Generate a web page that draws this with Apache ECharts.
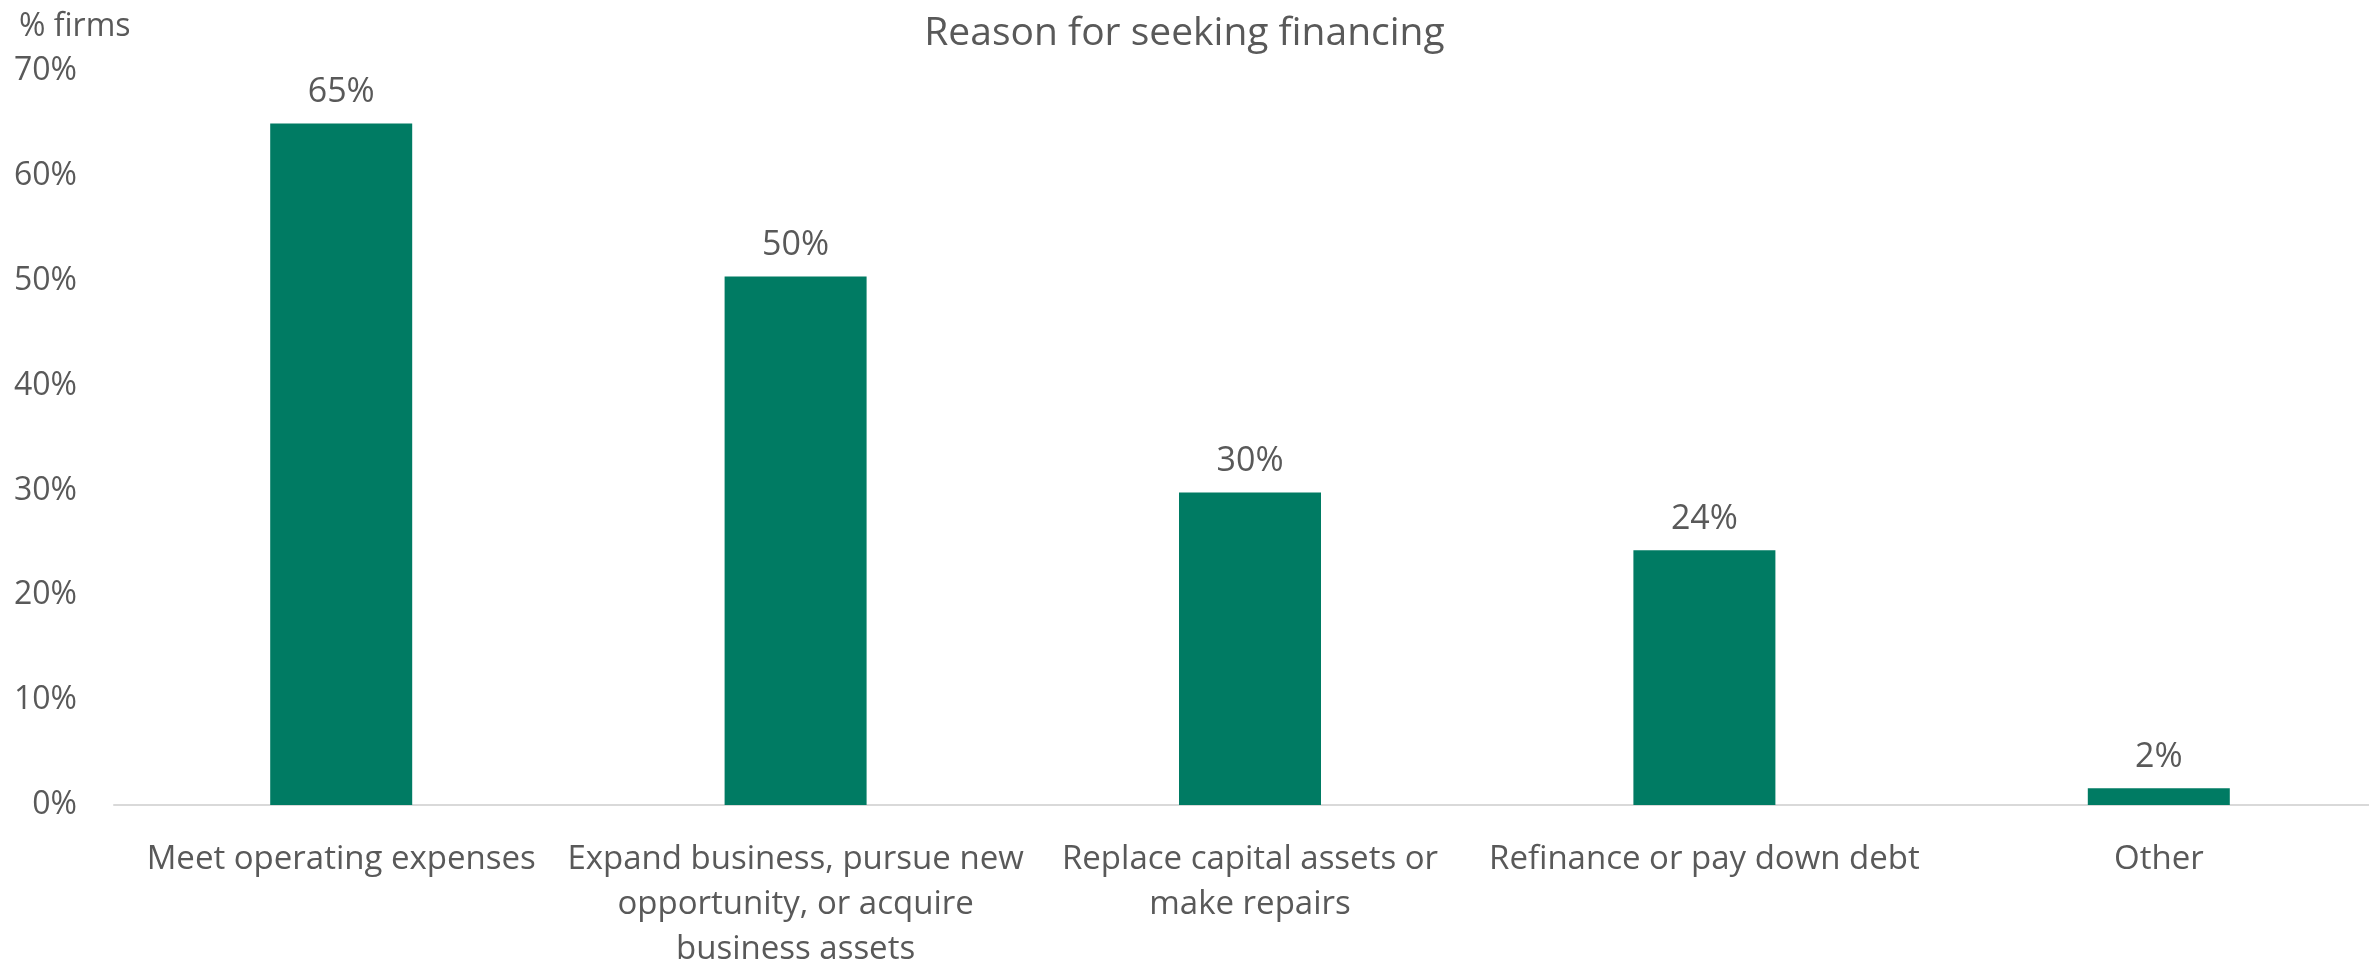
<!DOCTYPE html>
<html>
<head>
<meta charset="utf-8">
<script src="https://cdn.jsdelivr.net/npm/echarts@6/dist/echarts.min.js"></script>
<style>
  html, body { margin: 0; padding: 0; background: #fff; }
  #chart { width: 2369px; height: 963px; }
</style>
</head>
<body>
<div id="chart"></div>
<script>
const titleText = 'Reason for seeking financing';
const yAxisTitle = '% firms';
const categories = [
  'Meet operating expenses',
  'Expand business, pursue new\nopportunity, or acquire\nbusiness assets',
  'Replace capital assets or\nmake repairs',
  'Refinance or pay down debt',
  'Other'
];
const values = [65.0, 50.4, 29.8, 24.3, 1.6];
const yMin = 0, yMax = 70, yStep = 10;

const FONT = '"Open Sans", "Noto Sans", sans-serif';
const TXT = '#595959';
const chart = echarts.init(document.getElementById('chart'), null, { renderer: 'canvas' });
chart.setOption({
  backgroundColor: '#ffffff',
  animation: false,
  textStyle: { fontFamily: FONT },
  title: [
    { text: titleText, left: 'center', top: 9,
      textStyle: { fontFamily: FONT, fontSize: 39, fontWeight: 'normal', color: TXT } },
    { text: yAxisTitle, left: 14, top: 6,
      textStyle: { fontFamily: FONT, fontSize: 32, fontWeight: 'normal', color: TXT } }
  ],
  grid: { left: 114, top: 71, width: 2272, bottom: 158, containLabel: false, outerBoundsMode: 'none' },
  xAxis: {
    type: 'category',
    data: categories,
    axisLine: { show: true, lineStyle: { color: '#D9D9D9', width: 2 } },
    axisTick: { show: false },
    axisLabel: { color: TXT, fontFamily: FONT, fontSize: 33, lineHeight: 45, margin: 32, interval: 0 }
  },
  yAxis: {
    type: 'value',
    min: yMin, max: yMax, interval: yStep,
    axisLine: { show: false },
    axisTick: { show: false },
    splitLine: { show: false },
    axisLabel: { color: TXT, fontFamily: FONT, fontSize: 32, margin: 37, formatter: v => v + '%' }
  },
  series: [{
    type: 'bar',
    data: values,
    barWidth: 142,
    itemStyle: { color: '#007B63' },
    label: {
      show: true, position: 'top', distance: 14,
      color: TXT, fontFamily: FONT, fontSize: 34,
      formatter: p => Math.round(p.value) + '%'
    }
  }]
});
</script>
</body>
</html>
